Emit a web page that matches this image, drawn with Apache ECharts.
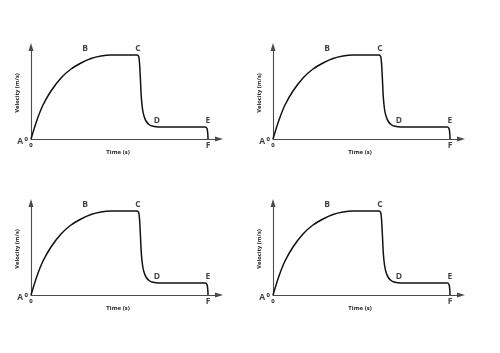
<!DOCTYPE html>
<html><head><meta charset="utf-8">
<script src="https://cdn.jsdelivr.net/npm/echarts@6/dist/echarts.min.js"></script>
<style>html,body{margin:0;padding:0;background:#fff}#c{width:500px;height:353px}</style>
</head><body><div id="c"></div>
<script>
// Curve (same in all four panels): time vs velocity (arbitrary units)
const time     = [0, 6, 12, 20, 30, 40, 50, 60, 70, 80, 92, 106, 108, 109.3, 110.3, 111.5, 113, 115, 118, 122, 128, 174, 176, 176.8, 177];
const velocity = [0, 19, 34, 48, 61, 70, 76, 80.5, 83, 84, 84, 84, 81, 62, 42, 30, 23, 18, 14.5, 12.7, 12, 12, 10.5, 5, 0];
// Lettered points
const letters     = ['A', 'B', 'C', 'D', 'E', 'F'];
const letterTime  = [0, 54, 107, 126, 177, 177];
const letterVel   = [0, 84, 84, 12, 12, 0];
// Axis titles and ticks
const xName = 'Time (s)';
const yName = 'Velocity (m/s)';
const xMax = 188, yMax = 92;
const tickLabels = ['0'];

const panels = [
  {left: 31, top: 47},
  {left: 273, top: 47},
  {left: 31, top: 203},
  {left: 273, top: 203}
];
const font = '"Open Sans", "Liberation Sans", sans-serif';
const grid = [], xAxis = [], yAxis = [], series = [];
const letterPos = ['left', 'top', 'top', 'top', 'top', 'bottom'];
panels.forEach((p, i) => {
  grid.push({left: p.left, top: p.top, width: xMax, height: yMax});
  const axisLine = {lineStyle: {color: '#4a4a4a', width: 1.1}, symbol: ['none', 'triangle'], symbolSize: [5, 8]};
  xAxis.push({gridIndex: i, type: 'value', min: 0, max: xMax, interval: xMax,
    axisLine, axisTick: {show: false}, splitLine: {show: false},
    axisLabel: {margin: 3, fontSize: 6, fontWeight: 'bold', color: '#222', fontFamily: font,
      formatter: v => v === 0 ? tickLabels[0] : ''},
    name: xName, nameLocation: 'middle', nameGap: 8,
    nameTextStyle: {fontSize: 6, fontWeight: 'bold', color: '#222', fontFamily: font, padding: [0, 14, 0, 0]}});
  yAxis.push({gridIndex: i, type: 'value', min: 0, max: yMax, interval: yMax,
    axisLine, axisTick: {show: false}, splitLine: {show: false},
    axisLabel: {margin: 3, fontSize: 6, fontWeight: 'bold', color: '#222', fontFamily: font,
      formatter: v => v === 0 ? tickLabels[0] : ''},
    name: yName, nameLocation: 'middle', nameGap: 11,
    nameTextStyle: {fontSize: 5.8, fontWeight: 'bold', color: '#222', fontFamily: font}});
  series.push({type: 'line', xAxisIndex: i, yAxisIndex: i, symbol: 'none',
    smooth: 0.3,
    lineStyle: {color: '#111', width: 1.5},
    data: time.map((t, k) => [t, velocity[k]]), silent: true, animation: false});
  series.push({type: 'scatter', xAxisIndex: i, yAxisIndex: i, symbolSize: 0,
    data: letters.map((l, k) => ({value: [letterTime[k], letterVel[k]], name: l,
      label: {position: letterPos[k], distance: k === 0 ? 8 : 2, offset: k === 0 ? [0, 3] : [0, 0]}})),
    label: {show: true, formatter: d => d.name, fontSize: 8.5, fontWeight: 'bold', color: '#111', fontFamily: font},
    silent: true, animation: false});
});
const chart = echarts.init(document.getElementById('c'), null, {renderer: 'canvas'});
chart.setOption({backgroundColor: '#fff', animation: false, grid, xAxis, yAxis, series});
</script></body></html>
